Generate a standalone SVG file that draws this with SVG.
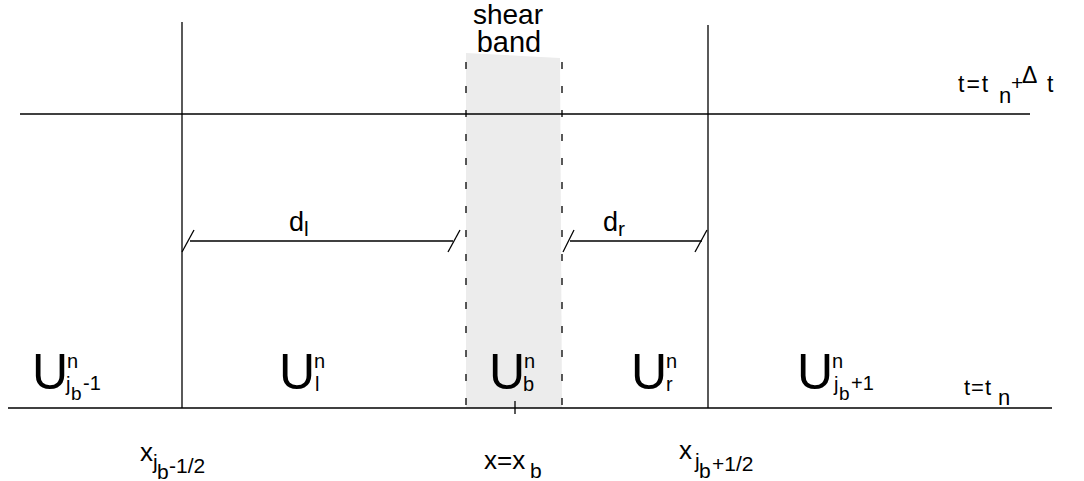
<svg xmlns="http://www.w3.org/2000/svg" width="1084" height="481" viewBox="0 0 1084 481">
<style>
.ln{stroke:#000;stroke-width:1.3;fill:none}
.ds{stroke:#000;stroke-width:1.3;fill:none;stroke-dasharray:7 17}
text{font-family:"Liberation Sans",Arial,sans-serif;fill:#000}
.big{font-size:50px}
.sup{font-size:20px}
.ssub{font-size:19px}
</style>
<rect width="1084" height="481" fill="#fff"/>
<g id="band">
<polygon points="466,53 560,58 562,408 466,408" fill="#ececec"/>
<line class="ds" x1="466" y1="62" x2="466" y2="408"/>
<line class="ds" x1="562" y1="62" x2="562" y2="408"/>
<text x="508" y="24" font-size="28" text-anchor="middle">shear</text>
<text x="509" y="52" font-size="29" text-anchor="middle">band</text>
</g>
<g id="axes">
<line class="ln" x1="20" y1="114" x2="1030" y2="114"/>
<line class="ln" x1="8" y1="408" x2="1052" y2="408"/>
<line class="ln" x1="182" y1="22" x2="182" y2="408"/>
<line class="ln" x1="708" y1="25" x2="708" y2="408"/>
<line class="ln" x1="515" y1="401" x2="515" y2="414"/>
</g>
<g id="connectors">
<line class="ln" x1="190" y1="241" x2="453" y2="241"/>
<line class="ln" x1="182" y1="252" x2="194" y2="230"/>
<line class="ln" x1="448" y1="252" x2="460" y2="230"/>
<line class="ln" x1="570" y1="241" x2="702" y2="241"/>
<line class="ln" x1="563" y1="252" x2="574" y2="230"/>
<line class="ln" x1="695" y1="252" x2="707" y2="230"/>
</g>
<g id="dl"><text x="289" y="231" font-size="27">d<tspan font-size="21" dy="5">l</tspan></text></g>
<g id="dr"><text x="603" y="231" font-size="27">d<tspan font-size="21" dy="5">r</tspan></text></g>
<g id="tnp"><text x="958" y="92" font-size="23" letter-spacing="2">t=t</text><text x="999" y="103" font-size="22">n</text><text x="1011" y="90" font-size="21">+</text><text x="1022" y="83" font-size="23">Δ</text><text x="1047" y="92" font-size="23">t</text></g>
<g id="tn"><text x="964" y="395" font-size="22" letter-spacing="1">t=t</text><text x="998" y="405" font-size="22">n</text></g>
<g id="Ujm1"><text class="big" x="32" y="389">U</text><text class="sup" x="67" y="368">n</text><text class="sup" x="66" y="391">j</text><text class="ssub" x="71" y="400">b</text><text class="sup" x="83" y="390">-1</text></g>
<g id="Ul"><text class="big" x="279" y="389">U</text><text class="sup" x="314" y="368">n</text><text class="sup" x="315" y="391">l</text></g>
<g id="Ub"><text class="big" x="489" y="389">U</text><text class="sup" x="524" y="368">n</text><text class="sup" x="523" y="391">b</text></g>
<g id="Ur"><text class="big" x="631" y="389">U</text><text class="sup" x="666" y="368">n</text><text class="sup" x="666" y="391">r</text></g>
<g id="Ujp1"><text class="big" x="797" y="389">U</text><text class="sup" x="832" y="368">n</text><text class="sup" x="834" y="391">j</text><text class="ssub" x="839" y="400">b</text><text class="sup" x="851" y="390">+1</text></g>
<g id="xjm"><text x="140" y="461" font-size="26">x</text><text x="153" y="469" font-size="21">j</text><text x="157" y="479" font-size="21">b</text><text x="169" y="473" font-size="21">-1/2</text></g>
<g id="xb"><text x="484" y="469" font-size="26">x=x</text><text x="530" y="478" font-size="21">b</text></g>
<g id="xjp"><text x="679" y="459" font-size="26">x</text><text x="695" y="468" font-size="21">j</text><text x="699" y="478" font-size="21">b</text><text x="712" y="471" font-size="21">+1/2</text></g>
</svg>
